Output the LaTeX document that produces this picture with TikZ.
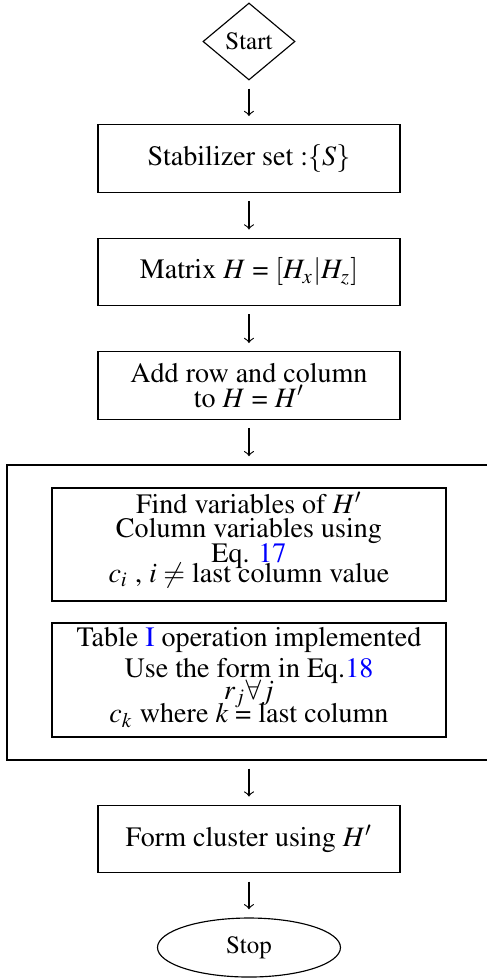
\documentclass[tikz,border=0pt]{standalone}
\usepackage[T1]{fontenc}
\usepackage{mathptmx}
\usepackage{xcolor}
\usepackage{amsmath}
\usepackage{tikz}
\usetikzlibrary{shapes.geometric}

\newcommand{\flowfont}{\fontsize{9.8}{8.5}\selectfont\lineskiplimit=-10pt}

\begin{document}
\begin{tikzpicture}[
    every node/.style={font=\flowfont},
    stepbox/.style={draw, minimum width=3.706cm, minimum height=0.828cm, align=center},
    innerbox/.style={draw, minimum width=4.834cm, inner sep=1pt, align=center},
    endnode/.style={draw, inner sep=0pt, font=\fontsize{8.7}{10}\selectfont},
    flow/.style={-to, shorten <=0.1cm, shorten >=0.1cm}
    ]
    \useasboundingbox (0,0) rectangle (5.975,-12);

    \node[endnode, diamond, minimum width=1.13cm, minimum height=0.945cm] (start) at (3.055,-0.509) {Start};
    \node[stepbox] (stab) at (3.055,-1.945) {Stabilizer set :$\{S\}$};
    \node[stepbox] (mat) at (3.055,-3.337) {Matrix $H$ = $[H_x|H_z]$};
    \node[stepbox] (add) at (3.055,-4.730) {Add row and column\\ to $H$ = $H'$};

    % outer frame round the two inner steps
    \node[draw, minimum width=5.939cm, minimum height=3.62cm] (group) at (3.055,-7.515) {};
    \node[innerbox, minimum height=1.387cm] (find) at (3.055,-6.681)
        {Find variables of $H'$\\ Column variables using\\[0.2pt] Eq. \textcolor{blue}{17}\\[-1.5pt] $c_i$ , $i \neq$ last column value\rule[-5pt]{0pt}{0pt}};
    \node[innerbox, minimum height=1.399cm] (tab) at (3.055,-8.344)
        {Table \textcolor{blue}{I} operation implemented\\[2.3pt] Use the form in Eq.\textcolor{blue}{18}\\[-0.8pt] $r_j \forall j$\\[-0.6pt] $c_k$ where $k$ = last column\rule[-3.5pt]{0pt}{0pt}};

    \node[stepbox] (form) at (3.055,-10.295) {Form cluster using $H'$};
    \node[endnode, ellipse, minimum width=2.245cm, minimum height=0.724cm] (stop) at (3.055,-11.626) {Stop};

    \draw[flow] (start) -- (stab);
    \draw[flow] (stab) -- (mat);
    \draw[flow] (mat) -- (add);
    \draw[flow] (add) -- (group);
    \draw[flow] (group) -- (form);
    \draw[flow] (form) -- (stop);
\end{tikzpicture}
\end{document}
